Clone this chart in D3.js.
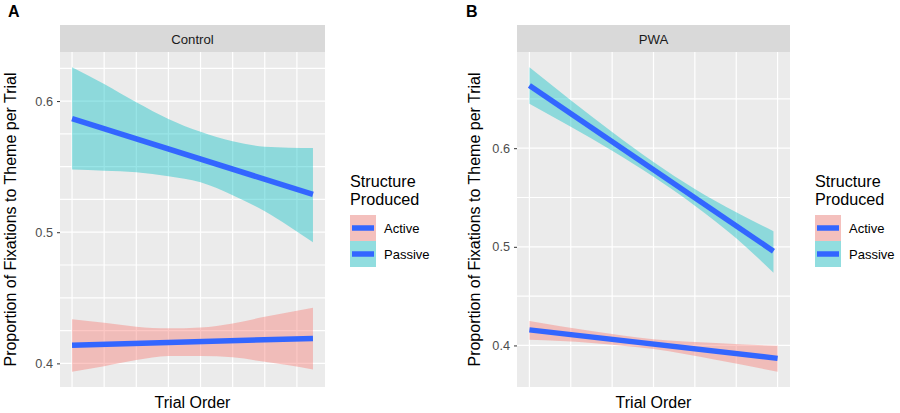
<!DOCTYPE html>
<html>
<head>
<meta charset="utf-8">
<script src="https://cdn.jsdelivr.net/npm/d3@7"></script>
<style>
  html, body { margin: 0; padding: 0; background: #fff; }
  svg { display: block; font-family: "Liberation Sans", Arial, Helvetica, sans-serif; }
</style>
</head>
<body>
<svg id="chart" width="900" height="413"></svg>
<script>
// ---------------- DATA ----------------
const groups = ["Control", "PWA"];
const panelTags = ["A", "B"];
const structures = ["Active", "Passive"];
const structureColors = ["#F8766D", "#00BFC4"];
const lineColor = "#3366FF";

// Panel A: Control
const trialA = [0, 10, 20, 30, 40, 50, 60, 67.5, 75];
const controlPassiveUpper = [0.6258, 0.6130, 0.5991, 0.5864, 0.5766, 0.5694, 0.5652, 0.5645, 0.5643];
const controlPassiveLower = [0.5478, 0.5469, 0.5458, 0.5427, 0.5381, 0.5282, 0.5160, 0.5046, 0.4924];
const controlActiveUpper  = [0.4337, 0.4309, 0.4279, 0.4267, 0.4274, 0.4305, 0.4355, 0.4390, 0.4424];
const controlActiveLower  = [0.3936, 0.3979, 0.4025, 0.4056, 0.4056, 0.4046, 0.4012, 0.3985, 0.3954];
const controlFitTrial   = [0, 75];
const controlPassiveFit = [0.5867, 0.5288];
const controlActiveFit  = [0.4139, 0.4190];
const controlTrialGrid  = [0, 10, 20, 30, 40, 50, 60, 70];
const controlValueGrid  = [0.4, 0.425, 0.45, 0.475, 0.5, 0.525, 0.55, 0.575, 0.6, 0.625];

// Panel B: PWA
const trialBPassive = [0, 10, 20, 30, 40, 50, 59];
const pwaPassiveUpper = [0.6821, 0.6487, 0.6164, 0.5860, 0.5587, 0.5350, 0.5158];
const pwaPassiveLower = [0.6451, 0.6217, 0.5974, 0.5710, 0.5417, 0.5086, 0.4737];
const trialBActive = [0, 15, 30, 45, 60];
const pwaActiveUpper = [0.4249, 0.4146, 0.4063, 0.4026, 0.3996];
const pwaActiveLower = [0.4057, 0.4026, 0.3963, 0.3856, 0.3733];
const pwaPassiveFitTrial = [0, 59];
const pwaPassiveFit = [0.6636, 0.4956];
const pwaActiveFitTrial = [0, 60];
const pwaActiveFit = [0.4158, 0.3869];
const pwaTrialGrid = [0, 10, 20, 30, 40, 50, 60];
const pwaValueGrid = [0.4, 0.45, 0.5, 0.55, 0.6, 0.65];

const yTickLabels = [0.4, 0.5, 0.6];
const yTitle = "Proportion of Fixations to Theme per Trial";
const xTitle = "Trial Order";
const legendTitle = ["Structure", "Produced"];

// ---------------- DRAWING ----------------
const svg = d3.select("#chart");
const zip = (xs, ys) => xs.map((x, i) => [x, ys[i]]);

const panels = [
  {
    group: groups[0], tag: panelTags[0],
    left: 60, right: 325, top: 52, bottom: 387,
    tagX: 8, yTitleX: 16, legendX: 350,
    trialGrid: controlTrialGrid, valueGrid: controlValueGrid,
    ribbons: [
      { s: 0, x: trialA, lo: controlActiveLower, hi: controlActiveUpper },
      { s: 1, x: trialA, lo: controlPassiveLower, hi: controlPassiveUpper }
    ],
    fits: [
      { x: controlFitTrial, y: controlActiveFit },
      { x: controlFitTrial, y: controlPassiveFit }
    ]
  },
  {
    group: groups[1], tag: panelTags[1],
    left: 517, right: 790, top: 52, bottom: 387,
    tagX: 466, yTitleX: 480, legendX: 815,
    trialGrid: pwaTrialGrid, valueGrid: pwaValueGrid,
    ribbons: [
      { s: 0, x: trialBActive, lo: pwaActiveLower, hi: pwaActiveUpper },
      { s: 1, x: trialBPassive, lo: pwaPassiveLower, hi: pwaPassiveUpper }
    ],
    fits: [
      { x: pwaActiveFitTrial, y: pwaActiveFit },
      { x: pwaPassiveFitTrial, y: pwaPassiveFit }
    ]
  }
];

function expand(ext, m) {
  const d = (ext[1] - ext[0]) * m;
  return [ext[0] - d, ext[1] + d];
}

panels.forEach(p => {
  const allX = p.ribbons.flatMap(r => r.x);
  const allY = p.ribbons.flatMap(r => r.lo.concat(r.hi));
  const x = d3.scaleLinear().domain(expand(d3.extent(allX), 0.05)).range([p.left, p.right]);
  const y = d3.scaleLinear().domain(expand(d3.extent(allY), 0.05)).range([p.bottom, p.top]);

  const g = svg.append("g");

  // panel tag
  g.append("text").attr("x", p.tagX).attr("y", 16.5)
    .attr("font-size", 16).attr("font-weight", "bold").attr("fill", "#000")
    .text(p.tag);

  // strip
  g.append("rect").attr("x", p.left).attr("y", 25)
    .attr("width", p.right - p.left).attr("height", 27).attr("fill", "#D9D9D9");
  g.append("text").attr("x", (p.left + p.right) / 2).attr("y", 43.5)
    .attr("text-anchor", "middle").attr("font-size", 13.2).attr("fill", "#1A1A1A")
    .text(p.group);

  // panel background
  g.append("rect").attr("x", p.left).attr("y", p.top)
    .attr("width", p.right - p.left).attr("height", p.bottom - p.top).attr("fill", "#EBEBEB");

  // grid
  g.selectAll(".hg").data(p.valueGrid).enter().append("line")
    .attr("x1", p.left).attr("x2", p.right)
    .attr("y1", d => y(d)).attr("y2", d => y(d))
    .attr("stroke", "#fff").attr("stroke-width", 1.2);
  g.selectAll(".vg").data(p.trialGrid).enter().append("line")
    .attr("y1", p.top).attr("y2", p.bottom)
    .attr("x1", d => x(d)).attr("x2", d => x(d))
    .attr("stroke", "#fff").attr("stroke-width", 1.2);

  // ribbons
  p.ribbons.forEach(r => {
    const pts = r.x.map((xv, i) => ({ x: xv, lo: r.lo[i], hi: r.hi[i] }));
    const area = d3.area().curve(d3.curveMonotoneX)
      .x(d => x(d.x)).y0(d => y(d.lo)).y1(d => y(d.hi));
    g.append("path").datum(pts).attr("d", area)
      .attr("fill", structureColors[r.s]).attr("fill-opacity", 0.4);
  });

  // fitted lines
  p.fits.forEach(f => {
    const line = d3.line().x(d => x(d[0])).y(d => y(d[1]));
    g.append("path").datum(zip(f.x, f.y)).attr("d", line)
      .attr("fill", "none").attr("stroke", lineColor).attr("stroke-width", 5.5);
  });

  // y axis ticks + labels
  const axis = d3.axisLeft(y).tickValues(yTickLabels).tickSize(3).tickPadding(4)
    .tickFormat(d3.format(".1f"));
  const ax = g.append("g").attr("transform", `translate(${p.left},0)`).call(axis);
  ax.select(".domain").remove();
  ax.selectAll(".tick line").attr("stroke", "#333333").attr("stroke-width", 1);
  ax.selectAll(".tick text").attr("fill", "#4D4D4D").attr("font-size", 12.7)
    .attr("font-family", "Liberation Sans, Arial, sans-serif");

  // axis titles
  g.append("text")
    .attr("transform", `translate(${p.yTitleX},${(p.top + p.bottom) / 2}) rotate(-90)`)
    .attr("text-anchor", "middle").attr("font-size", 16).attr("fill", "#000")
    .text(yTitle);
  g.append("text").attr("x", (p.left + p.right) / 2).attr("y", 408)
    .attr("text-anchor", "middle").attr("font-size", 16).attr("fill", "#000")
    .text(xTitle);

  // legend
  const lg = g.append("g");
  legendTitle.forEach((t, i) => {
    lg.append("text").attr("x", p.legendX).attr("y", 186.5 + i * 18.5)
      .attr("font-size", 16.2).attr("fill", "#000").text(t);
  });
  structures.forEach((s, i) => {
    const ky = 215 + i * 26;
    lg.append("rect").attr("x", p.legendX).attr("y", ky).attr("width", 26).attr("height", 26)
      .attr("fill", "#F2F2F2");
    lg.append("rect").attr("x", p.legendX).attr("y", ky).attr("width", 26).attr("height", 26)
      .attr("fill", structureColors[i]).attr("fill-opacity", 0.4);
    lg.append("line").attr("x1", p.legendX + 2).attr("x2", p.legendX + 24)
      .attr("y1", ky + 13).attr("y2", ky + 13)
      .attr("stroke", lineColor).attr("stroke-width", 5.5);
    lg.append("text").attr("x", p.legendX + 34).attr("y", ky + 18)
      .attr("font-size", 13).attr("fill", "#000").text(s);
  });
});
</script>
</body>
</html>
